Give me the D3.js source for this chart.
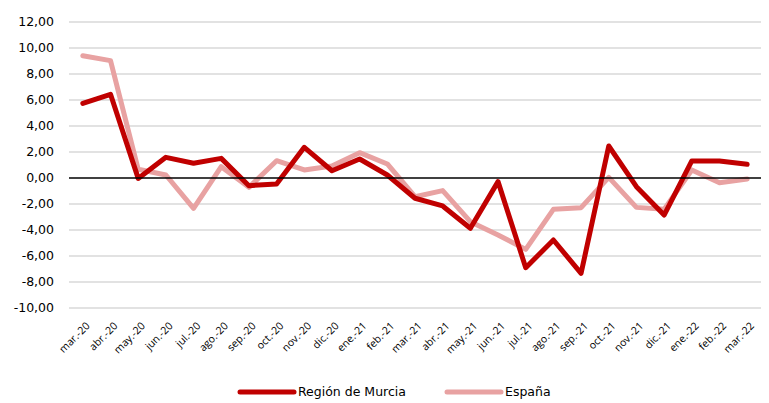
<!DOCTYPE html>
<html>
<head>
<meta charset="utf-8">
<script src="https://cdn.jsdelivr.net/npm/d3@7"></script>
<style>
  body { margin: 0; background: #fff; }
  svg { display: block; }
</style>
</head>
<body>
<svg id="chart" width="769" height="403"></svg>
<script>
// data
var months = ["mar.-20", "abr.-20", "may.-20", "jun.-20", "jul.-20", "ago.-20", "sep.-20",
  "oct.-20", "nov.-20", "dic.-20", "ene.-21", "feb.-21", "mar.-21", "abr.-21", "may.-21",
  "jun.-21", "jul.-21", "ago.-21", "sep.-21", "oct.-21", "nov.-21", "dic.-21", "ene.-22",
  "feb.-22", "mar.-22"];
var murcia = [5.74, 6.44, -0.03, 1.59, 1.13, 1.51, -0.59, -0.46, 2.36, 0.56, 1.46, 0.23,
  -1.56, -2.15, -3.87, -0.28, -6.9, -4.77, -7.33, 2.46, -0.67, -2.85, 1.31, 1.31, 1.05];
var espana = [9.41, 9.03, 0.67, 0.23, -2.33, 0.87, -0.72, 1.33, 0.62, 0.92, 1.95, 1.08,
  -1.44, -0.97, -3.36, -4.38, -5.49, -2.41, -2.28, 0.05, -2.26, -2.41, 0.62, -0.36, -0.08];
var yTicks = [12, 10, 8, 6, 4, 2, 0, -2, -4, -6, -8, -10];
var seriesNames = ["Región de Murcia", "España"];

var COLOR = { MURCIA: "#C00000", ESPANA: "#E8A2A2", GRID: "#D9D9D9" };

var svg = d3.select("#chart");
var margin = { left: 69, right: 8, top: 22, bottom: 95 };
var width = 769 - margin.left - margin.right;

var plot = svg.append("g")
  .attr("transform", "translate(" + margin.left + "," + margin.top + ")");

var x = d3.scaleBand().domain(months).range([0, width]);
var y = d3.scaleLinear().domain([-10, 12]).range([286, 0]);

// gridlines
plot.selectAll(".grid")
  .data(yTicks.filter(function (d) { return d !== 0; }))
  .enter()
  .append("line")
  .attr("class", "grid")
  .attr("x1", 0)
  .attr("x2", width)
  .attr("y1", function (d) { return y(d); })
  .attr("y2", function (d) { return y(d); })
  .style("stroke", COLOR.GRID)
  .style("stroke-width", 1.5);

// y labels (comma decimal, plain hyphen)
plot.selectAll(".ylab")
  .data(yTicks)
  .enter()
  .append("text")
  .attr("class", "ylab")
  .attr("x", -15)
  .attr("y", function (d) { return y(d); })
  .attr("dy", "0.35em")
  .attr("text-anchor", "end")
  .style("font-family", "DejaVu Sans")
  .style("font-size", "12.5px")
  .style("fill", "#000")
  .text(function (d) { return d.toFixed(2).replace(".", ","); });

// series lines
var line = d3.line()
  .x(function (d, i) { return x(months[i]) + x.bandwidth() / 2; })
  .y(function (d) { return y(d); });

plot.append("path")
  .datum(espana)
  .attr("d", line)
  .style("fill", "none")
  .style("stroke", COLOR.ESPANA)
  .style("stroke-width", 5)
  .style("stroke-linejoin", "round")
  .style("stroke-linecap", "round");

plot.append("path")
  .datum(murcia)
  .attr("d", line)
  .style("fill", "none")
  .style("stroke", COLOR.MURCIA)
  .style("stroke-width", 5)
  .style("stroke-linejoin", "round")
  .style("stroke-linecap", "round");

// zero axis line
plot.append("line")
  .attr("x1", 0)
  .attr("x2", width)
  .attr("y1", y(0))
  .attr("y2", y(0))
  .style("stroke", "#000")
  .style("stroke-width", 1.5);

// x labels, rotated
plot.selectAll(".xlab")
  .data(months)
  .enter()
  .append("text")
  .attr("class", "xlab")
  .attr("transform", function (d) {
    return "translate(" + (x(d) + x.bandwidth() / 2 + 5) + "," + (y(-10) + 16) + ") rotate(-45)";
  })
  .attr("text-anchor", "end")
  .attr("dy", "0.35em")
  .style("font-family", "Open Sans")
  .style("font-size", "10.5px")
  .style("fill", "#000")
  .text(function (d) { return d; });

// legend
var legend = svg.append("g").attr("transform", "translate(0,392)");
var legendItems = [
  { name: seriesNames[0], color: COLOR.MURCIA, x: 240 },
  { name: seriesNames[1], color: COLOR.ESPANA, x: 447 }
];
legendItems.forEach(function (item) {
  legend.append("line")
    .attr("x1", item.x)
    .attr("x2", item.x + 54)
    .attr("y1", 0)
    .attr("y2", 0)
    .style("stroke", item.color)
    .style("stroke-width", 5)
    .style("stroke-linecap", "round");
  legend.append("text")
    .attr("x", item.x + 58)
    .attr("y", 0)
    .attr("dy", "0.35em")
    .style("font-family", "DejaVu Sans")
    .style("font-size", "12.5px")
    .style("fill", "#000")
    .text(item.name);
});
</script>
</body>
</html>
